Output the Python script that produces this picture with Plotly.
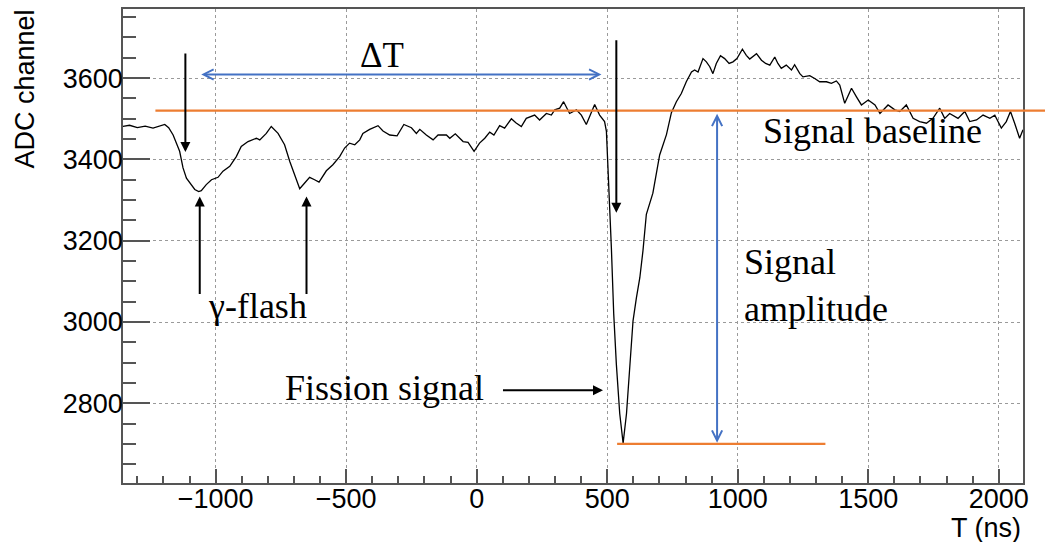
import plotly.graph_objects as go

# Waveform (time in ns, ADC channel)
t_ns = [-1356, -1330, -1300, -1270, -1240, -1215, -1195, -1180, -1163, -1138, -1125, -1112, -1095, -1080,
        -1065, -1055, -1036, -1016, -991, -972, -946, -921, -902, -876, -844, -831, -806, -787, -761, -736,
        -716, -697, -678, -659, -640, -621, -604, -576, -551, -525, -506, -487, -467, -448, -436, -410, -378,
        -359, -333, -305, -279, -250, -231, -218, -193, -167, -148, -116, -103, -82, -52, -33, -10, 11, 31,
        50, 66, 88, 107, 133, 150, 171, 190, 222, 241, 267, 286, 299, 318, 333, 356, 382, 401, 420, 439,
        452, 471, 490, 497, 503, 510, 516, 525, 535, 548, 561, 574, 586, 599, 612, 625, 637, 650, 675, 701,
        727, 746, 765, 784, 803, 823, 835, 848, 867, 880, 893, 905, 918, 934, 950, 967, 982, 997, 1018,
        1033, 1046, 1072, 1091, 1107, 1123, 1142, 1154, 1167, 1186, 1206, 1218, 1238, 1250, 1276, 1295,
        1314, 1340, 1359, 1378, 1391, 1410, 1436, 1455, 1474, 1500, 1526, 1545, 1576, 1602, 1621, 1646,
        1672, 1697, 1723, 1748, 1774, 1793, 1812, 1844, 1870, 1889, 1915, 1940, 1966, 1985, 2010, 2029,
        2045, 2061, 2080, 2093]
adc = [3481, 3484, 3478, 3482, 3477, 3481, 3486, 3478, 3460, 3420, 3379, 3354, 3338, 3326,
       3321, 3323, 3338, 3350, 3356, 3371, 3383, 3407, 3432, 3444, 3452, 3448, 3464, 3481, 3464, 3436,
       3395, 3363, 3328, 3342, 3356, 3350, 3344, 3372, 3387, 3407, 3428, 3440, 3436, 3448, 3464, 3474, 3483,
       3470, 3460, 3458, 3486, 3478, 3464, 3474, 3460, 3448, 3460, 3460, 3452, 3463, 3444, 3442, 3420, 3440, 3452,
       3467, 3460, 3483, 3477, 3500, 3490, 3481, 3501, 3509, 3497, 3513, 3509, 3522, 3526, 3542, 3513, 3522, 3509, 3486, 3513,
       3535, 3509, 3493, 3469, 3387, 3289, 3183, 3020, 2897, 2775, 2702, 2775, 2881, 3003, 3060, 3109, 3175, 3265, 3317, 3411,
       3461, 3515, 3542, 3562, 3591, 3615, 3620, 3615, 3648, 3640, 3628, 3611, 3636, 3655, 3648, 3636, 3640, 3648, 3671,
       3656, 3647, 3660, 3644, 3636, 3632, 3652, 3636, 3624, 3632, 3620, 3633, 3611, 3603, 3606, 3599,
       3591, 3591, 3587, 3593, 3583, 3538, 3575, 3554, 3534, 3546, 3534, 3513, 3534, 3522, 3518, 3534,
       3501, 3493, 3489, 3501, 3526, 3501, 3513, 3501, 3518, 3493, 3497, 3509, 3501, 3509, 3477, 3493,
       3518, 3489, 3452, 3473]

# Annotation geometry (data units)
baseline_adc = 3520
peak_adc = 2700
x_range = [-1355, 2093]
y_range = [2604, 3770]

BLUE = "#4472C4"
ORANGE = "#ED7D31"
SERIF = "Liberation Serif, Times New Roman, serif"
SANS = "Liberation Sans, Arial, Helvetica, sans-serif"

fig = go.Figure()
fig.add_trace(go.Scatter(x=t_ns, y=adc, mode="lines",
                         line=dict(color="black", width=1.3), showlegend=False))

axis_common = dict(
    showline=True, linecolor="#555", linewidth=1.5, mirror=True,
    ticks="inside", tickcolor="#555", tickwidth=1.5,
    showgrid=True, gridcolor="#9a9a9a", griddash="dot", gridwidth=1,
    zeroline=False,
    tickfont=dict(family=SANS, size=27, color="black"),
)
fig.update_xaxes(range=x_range, dtick=500, tick0=0, ticklen=14, ticklabelstandoff=-9,
                 minor=dict(dtick=100, tick0=0, ticks="inside", ticklen=7, tickcolor="#555", showgrid=False),
                 **axis_common)
fig.update_yaxes(range=y_range, dtick=200, tick0=0, ticklen=27, ticklabelstandoff=-7,
                 minor=dict(dtick=50, tick0=0, ticks="inside", ticklen=13, tickcolor="#555", showgrid=False),
                 **axis_common)

# orange lines
fig.add_shape(type="line", xref="paper", yref="y", x0=0.036, x1=1.03,
              y0=baseline_adc, y1=baseline_adc, line=dict(color=ORANGE, width=2.2))
fig.add_shape(type="line", xref="x", yref="y", x0=538, x1=1336,
              y0=peak_adc, y1=peak_adc, line=dict(color=ORANGE, width=2.2))

def arrow(x, y, ax, ay, color="black", width=2, head=2, both=False, size=1.0):
    d = dict(x=x, y=y, ax=ax, ay=ay, xref="x", yref="y", axref="x", ayref="y",
             text="", showarrow=True, arrowcolor=color, arrowwidth=width,
             arrowhead=head, arrowsize=size, standoff=0, startstandoff=0)
    if both:
        d.update(arrowside="end+start", startarrowhead=head, startarrowsize=size)
    fig.add_annotation(**d)

# black arrows
arrow(-1116, 3418, -1116, 3664)
arrow(-1061, 3309, -1061, 3065)
arrow(-652, 3309, -652, 3065)
arrow(535, 3269, 535, 3697)
arrow(484, 2832, 95, 2832)
# blue double arrows
arrow(478, 3609, -1061, 3609, color=BLUE, width=2, head=5, both=True)
arrow(921, 2703, 921, 3516, color=BLUE, width=2, head=5, both=True)

def label(text, x, y, xanchor="center", size=36, align="center"):
    fig.add_annotation(x=x, y=y, xref="x", yref="y", text=text, showarrow=False,
                       xanchor=xanchor, yanchor="middle", align=align,
                       font=dict(family=SERIF, size=size, color="black"))

label("ΔT", -364, 3655, size=35)
label("Signal baseline", 1088, 3469, xanchor="left")
label("Signal<br>amplitude", 1016, 3089, xanchor="left", align="left")
label("γ-flash", -839, 3040)
label("Fission signal", -352, 2837)

# axis titles (ROOT style: top / right aligned)
fig.add_annotation(xref="paper", yref="paper", x=-0.109, y=1.004, text="ADC channel",
                   textangle=-90, showarrow=False, xanchor="center", yanchor="top",
                   font=dict(family=SANS, size=27, color="black"))
fig.add_annotation(xref="paper", yref="paper", x=1.0, y=-0.094, text="T (ns)",
                   showarrow=False, xanchor="right", yanchor="middle",
                   font=dict(family=SANS, size=27, color="black"))

fig.update_layout(width=1045, height=542, margin=dict(l=123, r=22, t=7, b=59),
                  plot_bgcolor="white", paper_bgcolor="white")

fig.write_html("out.html", config={"displayModeBar": False},
               post_script="document.body.style.margin='0';document.body.style.overflow='hidden';")
